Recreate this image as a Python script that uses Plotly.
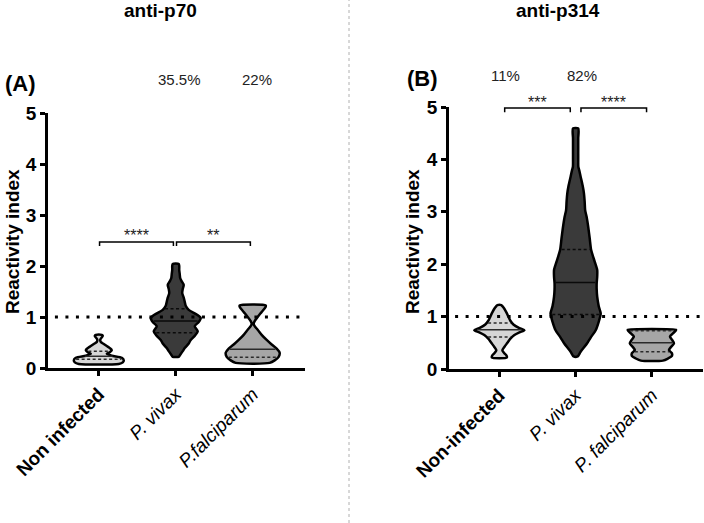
import numpy as np
import plotly.graph_objects as go

# ---------------- data ----------------
cats_A = ["Non infected", "P. vivax", "P.falciparum"]
cats_B = ["Non-infected", "P. vivax", "P. falciparum"]
y_ticks = [0, 1, 2, 3, 4, 5]

# violin profiles: y levels and relative half-widths (density)
ni_A_y = [0.08, 0.11, 0.15, 0.20, 0.24, 0.28, 0.31, 0.35, 0.39, 0.43, 0.47, 0.51, 0.56, 0.60, 0.63, 0.65]
ni_A_w = [20, 24, 25, 23, 13, 8, 11, 13, 11, 8, 5, 2, 1.5, 3, 4, 3]
pv_A_y = [0.22, 0.26, 0.33, 0.39, 0.48, 0.55, 0.63, 0.72, 0.82, 0.90, 0.98, 1.05, 1.14, 1.22, 1.30, 1.38, 1.47, 1.55, 1.63, 1.70, 1.76, 1.84, 1.92, 2.00, 2.04]
pv_A_w = [3, 4.5, 7, 9, 13, 15, 19, 22, 19, 23, 25, 21, 13, 10, 9, 8, 6.5, 7, 8, 6, 4.5, 4, 3.5, 3.5, 3]
pf_A_y = [0.10, 0.15, 0.22, 0.30, 0.38, 0.46, 0.55, 0.65, 0.75, 0.82, 0.87, 0.92, 1.00, 1.10, 1.20, 1.23]
pf_A_w = [17, 22, 26, 27, 24, 19, 14, 9, 5, 2, 1, 2, 5, 9, 13, 13]

ni_B_y = [0.22, 0.26, 0.30, 0.36, 0.42, 0.50, 0.58, 0.65, 0.70, 0.74, 0.78, 0.85, 0.92, 1.00, 1.08, 1.15, 1.20, 1.22]
ni_B_w = [7.5, 7, 5, 3, 5, 8, 11, 15, 20, 25, 20, 14, 11, 9, 7, 5, 3, 2]
pv_B_y = [0.24, 0.33, 0.49, 0.60, 0.74, 0.90, 1.06, 1.20, 1.38, 1.52, 1.64, 1.76, 1.89, 2.05, 2.27, 2.50, 2.72, 2.90, 3.03, 3.20, 3.35, 3.50, 3.67, 3.80, 3.86, 4.00, 4.20, 4.40, 4.59]
pv_B_w = [2, 5, 11.5, 15, 20, 23, 25, 23, 21.5, 21, 21, 21.5, 21.5, 19, 15.5, 14, 12.5, 11, 9.5, 9, 8.3, 7, 5, 3.5, 2.7, 2.6, 2.6, 2.6, 2.6]
pf_B_y = [0.16, 0.20, 0.25, 0.30, 0.36, 0.42, 0.49, 0.56, 0.62, 0.68, 0.74, 0.75]
pf_B_w = [11, 16, 20, 20, 17, 19, 22, 20, 18, 21, 24, 24]

# quartiles (q1, median, q3)
q_A = [[0.17, 0.23, 0.33], [0.69, 0.92, 1.16], [0.21, 0.37, 0.86]]
q_B = [[0.61, 0.75, 0.88], [1.04, 1.65, 2.28], [0.33, 0.50, 0.73]]

pct_A = ["", "35.5%", "22%"]
pct_B = ["11%", "82%", ""]
stars_A = ["****", "**"]
stars_B = ["***", "****"]
bracket_A = 2.47
bracket_B = 4.98
cutoff = 1.0

fills = ["#d6d6d6", "#3a3a3a", "#a6a6a6"]
inner = ["#2a2a2a", "#0a0a0a", "#2a2a2a"]

W, H = 704, 523
def px(x): return x / W
def py(y): return 1 - y / H

fig = go.Figure()

def add_panel(profiles, quarts, xa, ya, scale):
    for i, (yy, ww) in enumerate(profiles):
        yy = np.array(yy); ww = np.array(ww) * scale
        xs = np.concatenate([i + ww, (i - ww)[::-1], [i + ww[0]]])
        ys = np.concatenate([yy, yy[::-1], [yy[0]]])
        fig.add_trace(go.Scatter(x=xs, y=ys, mode="lines", fill="toself",
                                 fillcolor=fills[i],
                                 line=dict(color="black", width=2.5, shape="spline", smoothing=0.7),
                                 xaxis=xa, yaxis=ya, hoverinfo="skip", showlegend=False))
        for k, q in enumerate(quarts[i]):
            hw = np.interp(q, yy, ww) - 0.02
            if hw <= 0:
                continue
            fig.add_trace(go.Scatter(x=[i - hw, i + hw], y=[q, q], mode="lines",
                                     line=dict(color=inner[i], width=1.5,
                                               dash="solid" if k == 1 else "3px,2.5px"),
                                     xaxis=xa, yaxis=ya, hoverinfo="skip", showlegend=False))

add_panel([(ni_A_y, ni_A_w), (pv_A_y, pv_A_w), (pf_A_y, pf_A_w)], q_A, "x", "y", 1 / 77)
add_panel([(ni_B_y, ni_B_w), (pv_B_y, pv_B_w), (pf_B_y, pf_B_w)], q_B, "x2", "y2", 1 / 76)

# cutoff dotted lines
fig.add_trace(go.Scatter(x=[-0.57, 2.68], y=[cutoff, cutoff], mode="lines",
                         line=dict(color="black", width=3, dash="3px,7.5px"),
                         xaxis="x", yaxis="y", hoverinfo="skip", showlegend=False))
fig.add_trace(go.Scatter(x=[-0.58, 2.67], y=[cutoff, cutoff], mode="lines",
                         line=dict(color="black", width=3, dash="3px,7.5px"),
                         xaxis="x2", yaxis="y2", hoverinfo="skip", showlegend=False))

# significance brackets
def add_brackets(level, drop, inset_l, inset_r, xa, ya, stars, star_py):
    for j, s in enumerate(stars):
        x0, x1 = j + inset_l, j + 1 - inset_r
        fig.add_trace(go.Scatter(x=[x0, x0, x1, x1], y=[level - drop, level, level, level - drop],
                                 mode="lines", line=dict(color="black", width=1.5),
                                 xaxis=xa, yaxis=ya, cliponaxis=False,
                                 hoverinfo="skip", showlegend=False))
        fig.add_annotation(x=(x0 + x1) / 2, y=py(star_py), xref=xa, yref="paper", text=s,
                           xanchor="center", yanchor="middle",
                           showarrow=False, font=dict(size=16, color="#222"))

add_brackets(bracket_A, 0.08, 0.01, 0.03, "x", "y", stars_A, 235)
add_brackets(bracket_B, 0.08, 0.07, 0.07, "x2", "y2", stars_B, 102)

font_fam = "Liberation Sans, Arial, sans-serif"
# titles, labels, percentages
for txt, x, y, sz in [("anti-p70", 160, 10, 19), ("anti-p314", 558, 10, 19),
                      ("(A)", 20, 83, 22), ("(B)", 422, 78, 22)]:
    fig.add_annotation(x=px(x), y=py(y), xref="paper", yref="paper",
                       text=f"<b>{txt}</b>", showarrow=False, xanchor="center", yanchor="middle",
                       font=dict(size=sz, color="black"))
for j, t in enumerate(pct_A):
    if t:
        fig.add_annotation(x=j, y=py(79), xref="x", yref="paper", text=t, showarrow=False,
                           xanchor="center", yanchor="middle",
                           font=dict(size=15, color="#222"), xshift=4)
for j, t in enumerate(pct_B):
    if t:
        fig.add_annotation(x=j, y=py(75), xref="x2", yref="paper", text=t, showarrow=False,
                           xanchor="center", yanchor="middle",
                           font=dict(size=15, color="#222"), xshift=6)
for x in (12, 412):
    fig.add_annotation(x=px(x), y=py(242), xref="paper", yref="paper", text="<b>Reactivity index</b>",
                       textangle=-90, showarrow=False, xanchor="center", yanchor="middle",
                       font=dict(size=19, color="black"))

# divider
fig.add_shape(type="line", xref="paper", yref="paper", x0=px(349), x1=px(349), y0=0, y1=1,
              line=dict(color="#b0b0b0", width=1, dash="dot"))

axis_common = dict(showgrid=False, zeroline=False, showline=True, linecolor="black", linewidth=2.5,
                   ticks="outside", ticklen=5, tickwidth=2.5, tickcolor="black", automargin=False)
ticktext_A = [f"<b>{cats_A[0]}</b>", f"<i>{cats_A[1]}</i>", f"<i>{cats_A[2]}</i>"]
ticktext_B = [f"<b>{cats_B[0]}</b>", f"<i>{cats_B[1]}</i>", f"<i>{cats_B[2]}</i>"]
yticktext = [f"<b>{v}</b>" for v in y_ticks]

fig.update_layout(
    width=W, height=H, margin=dict(l=0, r=0, t=0, b=0),
    paper_bgcolor="white", plot_bgcolor="white",
    font=dict(family=font_fam, color="black"),
    xaxis=dict(domain=[px(48), px(305)], range=[-0.66, 2.68], tickvals=[0, 1, 2], ticktext=ticktext_A,
               tickangle=-45, tickfont=dict(size=19, color="black"), anchor="y", **axis_common),
    yaxis=dict(domain=[py(368), py(113)], range=[0, 5], tickvals=y_ticks, ticktext=yticktext,
               tickfont=dict(size=19, color="black"), anchor="x", **axis_common),
    xaxis2=dict(domain=[px(449), px(703)], range=[-0.66, 2.67], tickvals=[0, 1, 2], ticktext=ticktext_B,
                tickangle=-45, tickfont=dict(size=19, color="black"), anchor="y2", **axis_common),
    yaxis2=dict(domain=[py(369), py(107)], range=[0, 5], tickvals=y_ticks, ticktext=yticktext,
                tickfont=dict(size=19, color="black"), anchor="x2", **axis_common),
)

fig.write_html("out.html")
